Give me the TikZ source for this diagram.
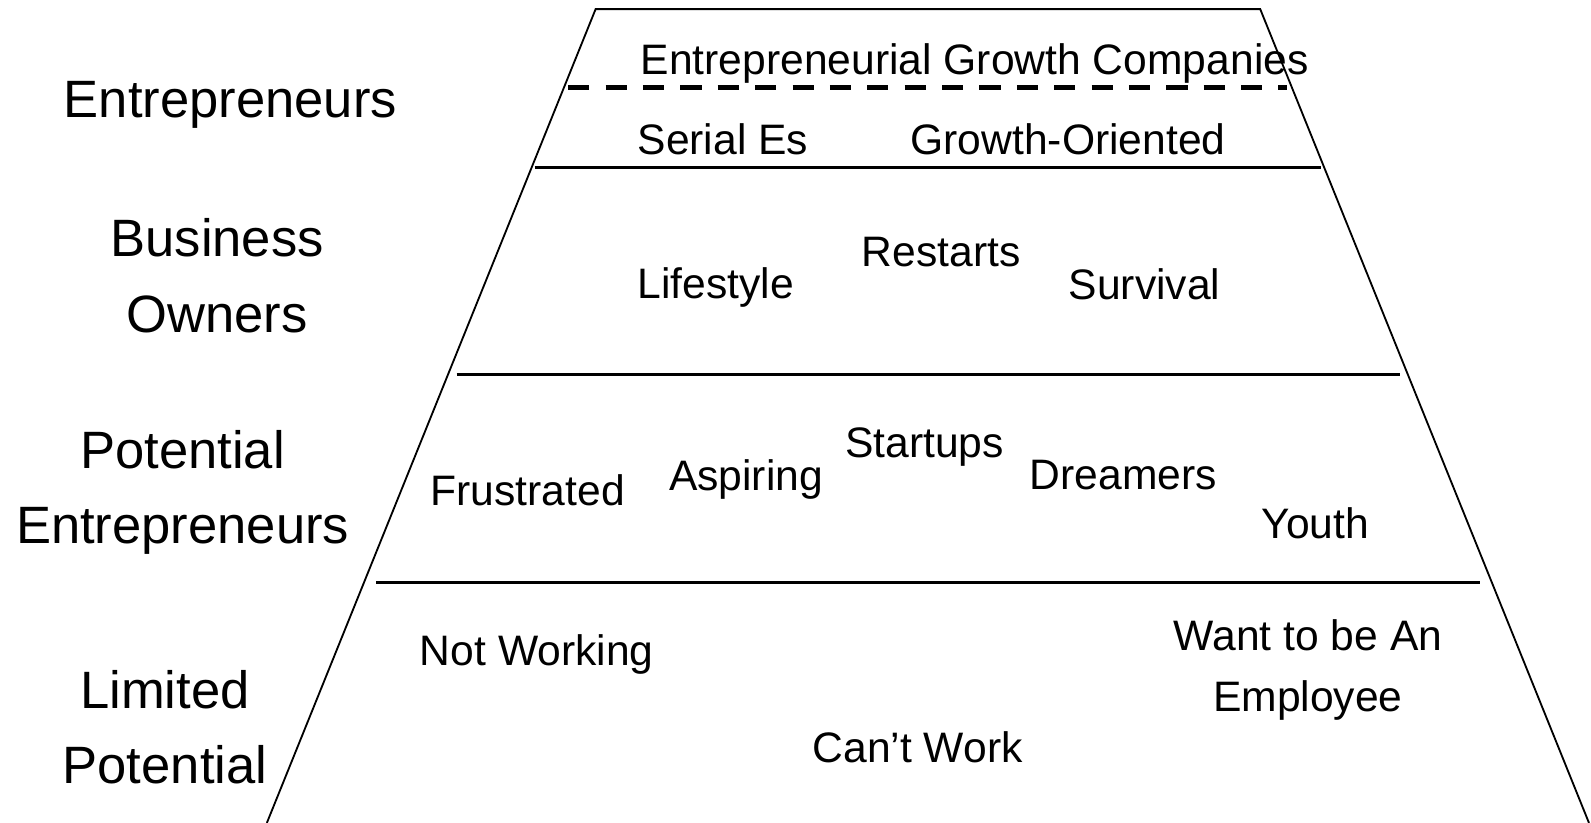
\documentclass[tikz,border=0pt]{standalone}
\usepackage{fontspec}
\setmainfont{Liberation Sans}
\begin{document}
\begin{tikzpicture}[x=0.5pt,y=-0.5pt,
  edge/.style={line width=0.9pt,line join=miter},
  band/.style={line width=1.1pt},
  split/.style={line width=2.4pt,dash pattern=on 10.45pt off 7.97pt},
  lab/.style={inner sep=0pt,anchor=base west,font=\fontsize{21}{30}\selectfont},
  side/.style={inner sep=0pt,anchor=base,font=\fontsize{25.9}{37.2}\selectfont}]
\useasboundingbox (0,0) rectangle (1568,811);
% trapezoid
\coordinate (tl) at (587,9);
\coordinate (tr) at (1242,9);
\coordinate (bl) at (263,811);
\coordinate (br) at (1566,811);
\draw[edge] (bl) -- (tl) -- (tr) -- (br);
% dividing lines
\coordinate (dl) at (560,86);
\coordinate (dr) at (1268,86);
\draw[split] (dl) -- (dr);
\coordinate (h1l) at (527,165);
\coordinate (h1r) at (1302,165);
\coordinate (h2l) at (450,369);
\coordinate (h2r) at (1380,369);
\coordinate (h3l) at (371,574);
\coordinate (h3r) at (1459,574);
\draw[band] (h1l) -- (h1r);
\draw[band] (h2l) -- (h2r);
\draw[band] (h3l) -- (h3r);
% side labels
\node[side] (sEnt) at (227,115.6) {Entrepreneurs};
\node[side] (sBus) at (214,253) {\begin{tabular}[t]{@{}c@{}}Business\\Owners\end{tabular}};
\node[side] (sPot) at (180,461.5) {\begin{tabular}[t]{@{}c@{}}Potential\\Entrepreneurs\end{tabular}};
\node[side] (sLim) at (162.6,698) {\begin{tabular}[t]{@{}c@{}}Limited\\Potential\end{tabular}};
% inner labels
\node[lab] (egc) at (631,73) {Entrepreneurial Growth Companies};
\node[lab] (ser) at (628,152) {Serial Es};
\node[lab] (gro) at (897,152) {Growth-Oriented};
\node[lab] (life) at (628,294) {Lifestyle};
\node[lab] (rest) at (849,263) {Restarts};
\node[lab] (surv) at (1053,294.7) {Survival};
\node[lab] (frus) at (424,497.7) {Frustrated};
\node[lab] (asp) at (659,483) {Aspiring};
\node[lab] (start) at (832.5,450.7) {Startups};
\node[lab] (dream) at (1014.5,482.2) {Dreamers};
\node[lab] (youth) at (1243,531) {Youth};
\node[lab] (notw) at (413.5,656) {Not Working};
\node[lab] (cant) at (800.5,751) {Can’t Work};
\node[lab,anchor=base] (want) at (1289,641) {\begin{tabular}[t]{@{}c@{}}Want to be An\\Employee\end{tabular}};
\end{tikzpicture}
\end{document}
